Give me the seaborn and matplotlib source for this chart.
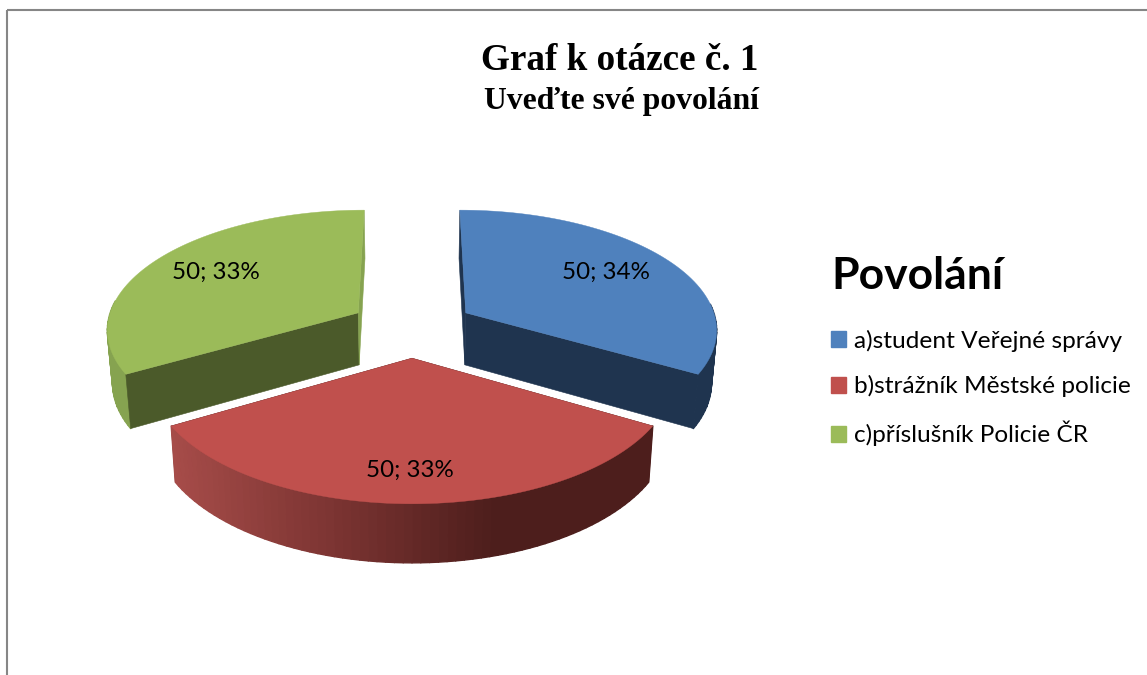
import numpy as np
import matplotlib
matplotlib.use("Agg")
import matplotlib.pyplot as plt
from matplotlib.collections import PolyCollection
from matplotlib.colors import LinearSegmentedColormap
from matplotlib.patches import Patch, Polygon, Rectangle
import seaborn as sns

# --- data ---
categories = ["a)student Veřejné správy", "b)strážník Městské policie", "c)příslušník Policie ČR"]
values = [50, 50, 50]
percents = [34, 33, 33]
title = "Graf k otázce č. 1"
subtitle = "Uveďte své povolání"
legend_title = "Povolání"

# --- style ---
top_colors = ["#4F81BD", "#C0504D", "#9BBB59"]
wall_colors = ["#1F344F", "#4D1E1C", "#4B5A2A"]
sliver_colors = ["#1F344F", "#4D1E1C", "#86A350"]
outer_ramps = [["#1F344F", "#1F344F"],
               ["#A64C49", "#7C3432", "#4D1E1C", "#4D1E1C"],
               ["#86A350", "#86A350"]]
outer_zorder = [1.5, 2.5, 1.5]
label_xy = [(606, 272), (410, 470), (216, 272)]

CX, CY = 412.0, 327.5       # pie centre in pixels
RX, RY = 252.0, 119.0       # radii
PERSP = 0.125               # perspective strength
EXPLODE = 0.25              # explosion share of the radius
BOTTOM_SCALE = 0.983
DEPTH = 52.0
DEPTH_SLOPE = 0.037

sns.set_theme(style="white", rc={"axes.facecolor": "white", "figure.facecolor": "white",
                                 "text.color": "black"})
palette = sns.color_palette(top_colors)

fig = plt.figure(figsize=(11.47, 6.75), dpi=100)
ax = fig.add_axes([0, 0, 1, 1])
ax.set_xlim(0, 1147)
ax.set_ylim(675, 0)
ax.axis("off")

ax.add_patch(Rectangle((7, 10), 1400, 900, fill=False, edgecolor="#868686", lw=1.5, zorder=0))


def project(u, v):
    f = 1.0 / (1.0 + PERSP * v)
    return CX + RX * u * f, CY - RY * v * f


def lower(x, y):
    return CX + BOTTOM_SCALE * (x - CX), y + DEPTH + DEPTH_SLOPE * (y - 313.0)


total = sum(values)
angles = np.cumsum([0] + [v / total * 360 for v in values])

# back slices first, the front one last
for i in [0, 2, 1]:
    a0, a1 = np.radians(angles[i]), np.radians(angles[i + 1])
    mid = (a0 + a1) / 2
    ou, ov = EXPLODE * np.sin(mid), EXPLODE * np.cos(mid)
    th = np.linspace(a0, a1, 71)
    ax_, ay_ = project(ou, ov)
    xs, ys = project(ou + np.sin(th), ov + np.cos(th))
    bx, by = lower(xs, ys)
    abx, aby = lower(ax_, ay_)
    # outer wall with its horizontal ramp; the far part is hidden by the top face
    ramp = LinearSegmentedColormap.from_list("ramp", outer_ramps[i])
    keep = [k for k in range(len(th) - 1) if np.cos(th[k]) < 0.08]
    quads = [[(xs[k], ys[k]), (xs[k + 1], ys[k + 1]), (bx[k + 1], by[k + 1]), (bx[k], by[k])]
             for k in keep]
    span = (xs - xs.min()) / (xs.max() - xs.min())
    cols = [ramp((span[k] + span[k + 1]) / 2) for k in keep]
    ax.add_collection(PolyCollection(quads, facecolors=cols, edgecolors=cols, linewidths=1.0,
                                     zorder=outer_zorder[i]))
    # radial walls
    for idx, col in ((0, wall_colors[i]), (-1, sliver_colors[i])):
        ax.add_patch(Polygon([(ax_, ay_), (xs[idx], ys[idx]), (bx[idx], by[idx]), (abx, aby)],
                             closed=True, facecolor=col, edgecolor=col, lw=0.4, zorder=2))
    # top face
    ax.add_patch(Polygon(np.column_stack([np.r_[ax_, xs], np.r_[ay_, ys]]), closed=True,
                         facecolor=palette[i], edgecolor=palette[i], lw=0.3, zorder=3))
    ax.text(*label_xy[i], f"{values[i]}; {percents[i]}%", ha="center", va="center",
            family="Lato", fontsize=17.4, color="black", zorder=5)

ax.text(620, 61, title, ha="center", va="center", family="Liberation Serif",
        weight="bold", fontsize=26.7, color="black")
ax.text(621, 101, subtitle, ha="center", va="center", family="Liberation Serif",
        weight="bold", fontsize=22.8, color="black")

handles = [Patch(facecolor=c, edgecolor=c) for c in palette]
leg = ax.legend(handles, categories, title=legend_title, loc="upper left",
                bbox_to_anchor=(824, 249), bbox_transform=ax.transData, frameon=False,
                prop={"family": "Lato", "size": 17.6}, handlelength=0.61, handleheight=0.61,
                handletextpad=0.3, labelspacing=0.96, borderpad=0.3, borderaxespad=0,
                labelcolor="black",
                title_fontproperties={"family": "Lato", "weight": "bold", "size": 32})
leg._legend_box.align = "left"
leg._legend_box.sep = 24
leg.get_title().set_color("black")

fig.savefig("out.png", dpi=100)
